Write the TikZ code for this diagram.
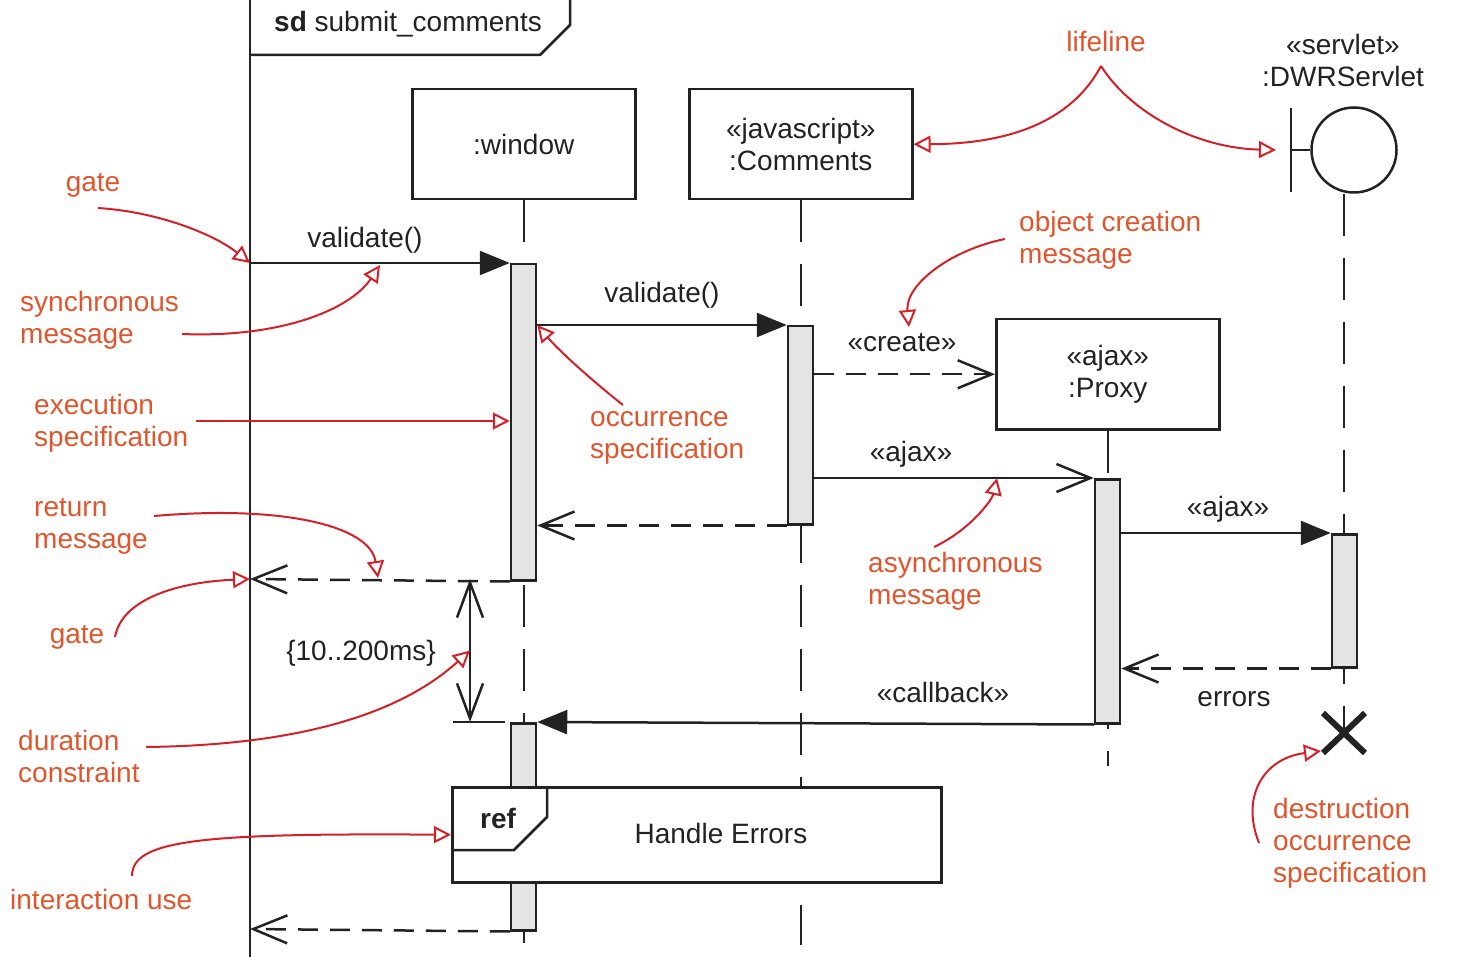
\documentclass[tikz,border=0pt]{standalone}
\usepackage{fontspec}
\setmainfont{Liberation Sans}
\usetikzlibrary{arrows.meta,calc,positioning}
\definecolor{umlink}{RGB}{34,34,34}
\definecolor{notered}{RGB}{214,32,40}
\definecolor{notetext}{RGB}{225,85,45}
\definecolor{actgray}{RGB}{228,228,228}
\tikzset{
	uml/.style={line width=2.5pt, draw=umlink},
	lifebox/.style={uml, text=umlink, align=center, minimum width=223pt, minimum height=110pt, inner sep=0pt},
	lifeline/.style={line width=2.5pt, draw=umlink, dash pattern=on 42pt off 22pt},
	actbar/.style={uml, fill=actgray, minimum width=25pt, inner sep=0pt, anchor=north},
	syncmsg/.style={uml, -{Triangle[length=30pt,width=24pt]}},
	asyncmsg/.style={uml, -{Straight Barb[length=34pt,width=28pt]}},
	retmsg/.style={uml, dash pattern=on 20pt off 12pt, -{Straight Barb[length=34pt,width=28pt]}},
	msglabel/.style={inner sep=0pt, text=umlink},
	note/.style={inner sep=0pt, text=notetext, align=left},
	notearrow/.style={line width=2pt, draw=notered, -{Triangle[open,length=17pt,width=17pt]}}
}

\begin{document}
\begin{tikzpicture}[x=1pt,y=-1pt,font=\fontsize{28}{32}\selectfont]
		\useasboundingbox (0,0) rectangle (1464,957);
		%%%%% FRAME %%%%%
		\draw[uml] (250,0) -- (250,957);
		\draw[uml] (250,55) -- (540,55) -- (570,25) -- (570,0);
		\node[msglabel, anchor=west] (sdName) at (274,24) {\textbf{sd} submit\_comments};
		
		%%%%% LIFELINES %%%%%
		\node[lifebox, anchor=north west] (win) at (411,88) {:window};
		\node[lifebox, anchor=north west] (cmt) at (688,88) {«javascript»\\:Comments};
		\node[lifebox, anchor=north west] (prx) at (995,318) {«ajax»\\:Proxy};
		
		\node[uml, circle, minimum size=85pt, inner sep=0pt] (srv) at (1354,150) {};
		\coordinate (srvBarTop) at (1291,108);
		\coordinate (srvBarBot) at (1291,192);
		\draw[uml] (srvBarTop) -- (srvBarBot);
		\draw[uml] (srvBarTop |- srv.west) -- (srv.west);
		\node[msglabel, align=center] (srvName) at (1343,60) {«servlet»\\:DWRServlet};
		
		\coordinate (xEnd) at (1344,733);
		\draw[lifeline] (win.south) -- ++(0,742);
		\draw[lifeline] (cmt.south) -- ++(0,744);
		\draw[lifeline] (prx.south) -- ++(0,335);
		\draw[lifeline] (xEnd |- srv.south) -- (xEnd);
		
		%%%%% ACTIVATIONS %%%%%
		\node[actbar, minimum height=316pt] (winA) at (523.5,263) {};
		\node[actbar, minimum height=207pt] (winB) at (523.5,722) {};
		\node[actbar, minimum height=198pt] (cmtA) at (800.5,325) {};
		\node[actbar, minimum height=244pt] (prxA) at (1107.5,478) {};
		\node[actbar, minimum height=133pt] (srvA) at (1344.5,533) {};
		
		\draw[line width=6pt, umlink] ($(xEnd)+(-21,-20)$) -- ($(xEnd)+(21,20)$);
		\draw[line width=6pt, umlink] ($(xEnd)+(-21,20)$) -- ($(xEnd)+(21,-20)$);
		
		%%%%% INTERACTION USE %%%%%
		\node[uml, fill=white, minimum width=489pt, minimum height=95pt, inner sep=0pt, anchor=north west] (hErr) at (451,786) {};
		\draw[uml] (451,850) -- (514,850) -- (547,817) -- (547,786);
		\node[msglabel, font=\fontsize{28}{32}\selectfont\bfseries] (refTag) at (498,818) {ref};
		\node[msglabel] (hErrName) at (721,833) {Handle Errors};
		
		%%%%% MESSAGES %%%%%
		\coordinate (gateA) at (250,263);
		\coordinate (gateB) at (250,579);
		\coordinate (gateC) at (250,929);
		\draw[syncmsg] (gateA) -- (winA.north west);
		\draw[syncmsg] (winA.east |- cmtA.north) -- (cmtA.north west);
		\draw[retmsg] (cmtA.east |- prx.west) -- (prx.west);
		\draw[asyncmsg] (cmtA.east |- prxA.north) -- (prxA.north west);
		\draw[retmsg] (cmtA.south west) -- (winA.east |- cmtA.south);
		\draw[syncmsg] (prxA.east |- srvA.north) -- (srvA.north west);
		\draw[retmsg] (srvA.south west) -- (prxA.east |- srvA.south);
		\draw[retmsg] (winA.south west) -- (gateB);
		\draw[syncmsg] (prxA.south west) -- (winB.north east);
		\draw[retmsg] (winB.south west) -- (gateC);
		
		\node[msglabel] (valA) at (365,240) {validate()};
		\node[msglabel] (valB) at (662,295) {validate()};
		\node[msglabel] (crt) at (902,343) {«create»};
		\node[msglabel] (ajA) at (911,454) {«ajax»};
		\node[msglabel] (ajB) at (1228,509) {«ajax»};
		\node[msglabel] (err) at (1234,699) {errors};
		\node[msglabel] (cbk) at (943,692) {«callback»};
		
		%%%%% DURATION %%%%%
		\coordinate (durTop) at (470,579);
		\coordinate (durBot) at (470,722);
		\draw[uml, {Straight Barb[length=35pt,width=26pt]}-{Straight Barb[length=35pt,width=26pt]}] (durTop) -- (durBot);
		\draw[uml] (453,722) -- (505,722);
		\node[msglabel] (dur) at (361,653) {\{10..200ms\}};
		
		%%%%% NOTES %%%%%
		\node[note] (nGateA) at (93,185) {gate};
		\node[note, anchor=west] (nSync) at (20,320) {synchronous\\message};
		\node[note, anchor=west] (nExec) at (34,423) {execution\\specification};
		\node[note, anchor=west] (nRet) at (34,526) {return\\message};
		\node[note] (nGateB) at (77,637) {gate};
		\node[note, anchor=west] (nDur) at (18,756) {duration\\constraint};
		\node[note, anchor=west] (nUse) at (10,899) {interaction use};
		\node[note, anchor=west] (nOcc) at (590,438) {occurrence\\specification};
		\node[note, anchor=west] (nCrt) at (1019,240) {object creation\\message};
		\node[note] (nLife) at (1106,41) {lifeline};
		\node[note, anchor=west] (nAsync) at (868,581) {asynchronous\\message};
		\node[note, anchor=west] (nDest) at (1273,843) {destruction\\occurrence\\specification};
		
		\coordinate (sGateA) at (98,208);
		\coordinate (sSync) at (182,334);
		\coordinate (syncPt) at (380,265);
		\coordinate (sExec) at (196,421);
		\coordinate (sRet) at (154,516);
		\coordinate (retPt) at (378,578);
		\coordinate (sGateB) at (115,637);
		\coordinate (sDur) at (146,747);
		\coordinate (sUse) at (132,876);
		\coordinate (sOcc) at (623,405);
		\coordinate (sCrt) at (1005,239);
		\coordinate (crtPt) at (909,327);
		\coordinate (apex) at (1101,66);
		\coordinate (srvPt) at (1276,150);
		\coordinate (sAsync) at (934,547);
		\coordinate (asyncPt) at (997,478);
		\coordinate (sDest) at (1259,843);
		\coordinate (destPt) at (1321,751);
		
		\draw[notearrow] (sGateA) .. controls (160,212) and (215,235) .. (gateA);
		\draw[notearrow] (sSync) .. controls (280,338) and (350,310) .. (syncPt);
		\draw[notearrow] (sExec) -- (winA.west |- sExec);
		\draw[notearrow] (sRet) .. controls (280,505) and (370,525) .. (retPt);
		\draw[notearrow] (sGateB) .. controls (122,598) and (180,582) .. (gateB);
		\draw[notearrow] (sDur) .. controls (320,745) and (410,705) .. ($(durTop)!0.5!(durBot)$);
		\draw[notearrow] (sUse) .. controls (132,840) and (200,833) .. (hErr.west);
		\draw[notearrow] (sOcc) .. controls (595,383) and (560,352) .. (winA.east |- cmtA.north);
		\draw[notearrow] (sCrt) .. controls (950,250) and (905,285) .. (crtPt);
		\draw[notearrow] (apex) .. controls (1075,115) and (1020,144) .. (cmt.east);
		\draw[notearrow] (apex) .. controls (1130,112) and (1195,148) .. (srvPt);
		\draw[notearrow] (sAsync) .. controls (970,530) and (992,500) .. (asyncPt);
		\draw[notearrow] (sDest) .. controls (1240,795) and (1265,758) .. (destPt);
	\end{tikzpicture}
\end{document}
